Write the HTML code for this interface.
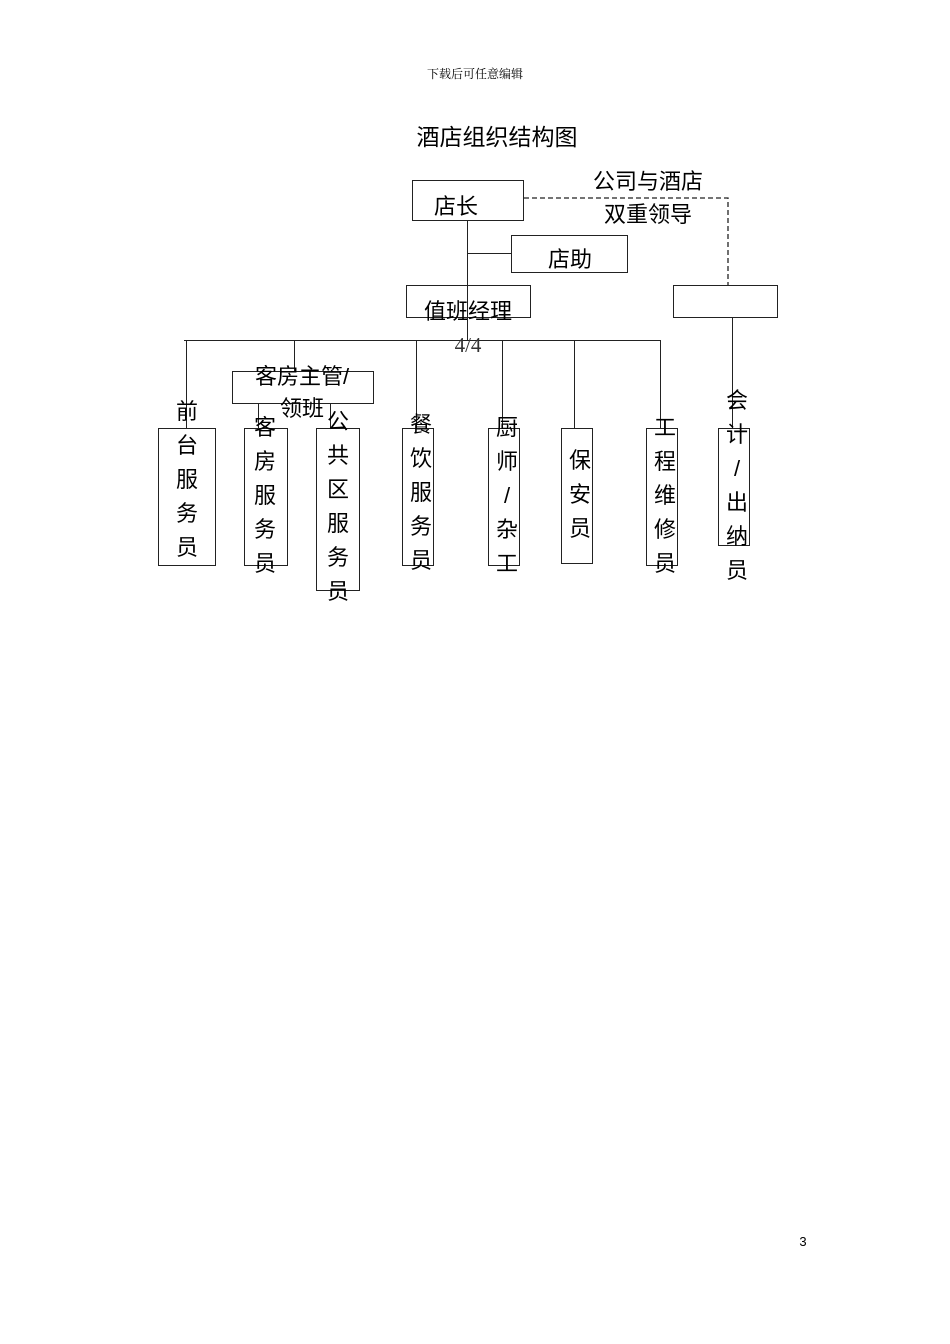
<!DOCTYPE html>
<html><head><meta charset="utf-8"><style>
body{margin:0;background:#fff;}
#p{position:relative;width:950px;height:1344px;overflow:hidden;font-family:"Liberation Sans","Noto Sans CJK SC",sans-serif;color:#000;}
.b{position:absolute;border:1.3px solid #222;box-sizing:border-box;}
.l{position:absolute;background:#222;}
.t{position:absolute;white-space:nowrap;font-size:22px;line-height:22px;transform:translateX(-50%);}
.v{position:absolute;width:30px;font-size:22px;line-height:34px;text-align:center;transform:translateX(-50%);white-space:nowrap;}
</style></head><body><div id="p">
<div class="t" style="left:475px;top:67px;font-size:12px;line-height:14px;font-family:'Noto Serif CJK SC',serif;">下载后可任意编辑</div>
<div class="t" style="left:497px;top:125px;font-size:23px;line-height:24px;">酒店组织结构图</div>
<div class="t" style="left:803px;top:1235px;font-size:13px;line-height:14px;">3</div>

<div class="b" style="left:412px;top:180px;width:112px;height:41px;"></div>
<div class="t" style="left:456px;top:196px;">店长</div>
<div class="b" style="left:511px;top:235px;width:117px;height:38px;"></div>
<div class="t" style="left:570px;top:249px;">店助</div>
<div class="b" style="left:406px;top:285px;width:125px;height:33px;"></div>
<div class="t" style="left:468px;top:301px;">值班经理</div>
<div class="b" style="left:673px;top:285px;width:105px;height:33px;"></div>
<div class="t" style="left:648px;top:171px;">公司与酒店</div>
<div class="t" style="left:648px;top:204px;">双重领导</div>
<svg style="position:absolute;left:0;top:0" width="950" height="400"><path d="M524 198H728V285" fill="none" stroke="#222" stroke-width="1.3" stroke-dasharray="5,3"/></svg>

<div class="l" style="left:467px;top:221px;width:1.3px;height:119px;"></div>
<div class="l" style="left:468px;top:253px;width:43px;height:1.3px;"></div>
<div class="l" style="left:184px;top:340px;width:477px;height:1.3px;"></div>
<div class="t" style="left:468px;top:334px;font-family:'Liberation Serif',serif;font-size:21px;color:#333;">4/4</div>

<div class="l" style="left:186px;top:340px;width:1.3px;height:88px;"></div>
<div class="l" style="left:294px;top:340px;width:1.3px;height:31px;"></div>
<div class="l" style="left:416px;top:340px;width:1.3px;height:88px;"></div>
<div class="l" style="left:502px;top:340px;width:1.3px;height:88px;"></div>
<div class="l" style="left:574px;top:340px;width:1.3px;height:88px;"></div>
<div class="l" style="left:660px;top:340px;width:1.3px;height:88px;"></div>
<div class="l" style="left:732px;top:318px;width:1.3px;height:110px;"></div>
<div class="l" style="left:258px;top:403px;width:1.3px;height:25px;"></div>
<div class="l" style="left:330px;top:403px;width:1.3px;height:25px;"></div>

<div class="b" style="left:232px;top:371px;width:142px;height:33px;"></div>
<div class="t" style="left:302px;top:366px;">客房主管/</div>
<div class="t" style="left:302px;top:398px;">领班</div>

<div class="b" style="left:158px;top:428px;width:58px;height:138px;"></div>
<div class="v" style="left:187px;top:395px;">前<br>台<br>服<br>务<br>员</div>
<div class="b" style="left:244px;top:428px;width:44px;height:138px;"></div>
<div class="v" style="left:265px;top:411px;">客<br>房<br>服<br>务<br>员</div>
<div class="b" style="left:316px;top:428px;width:44px;height:163px;"></div>
<div class="v" style="left:338px;top:405px;">公<br>共<br>区<br>服<br>务<br>员</div>
<div class="b" style="left:402px;top:428px;width:32px;height:138px;"></div>
<div class="v" style="left:421px;top:408px;">餐<br>饮<br>服<br>务<br>员</div>
<div class="b" style="left:488px;top:428px;width:32px;height:138px;"></div>
<div class="v" style="left:507px;top:411px;">厨<br>师<br>/<br>杂<br>工</div>
<div class="b" style="left:561px;top:428px;width:32px;height:136px;"></div>
<div class="v" style="left:580px;top:444px;">保<br>安<br>员</div>
<div class="b" style="left:646px;top:428px;width:32px;height:138px;"></div>
<div class="v" style="left:665px;top:411px;">工<br>程<br>维<br>修<br>员</div>
<div class="b" style="left:718px;top:428px;width:32px;height:118px;"></div>
<div class="v" style="left:737px;top:384px;">会<br>计<br>/<br>出<br>纳<br>员</div>
</div></body></html>
